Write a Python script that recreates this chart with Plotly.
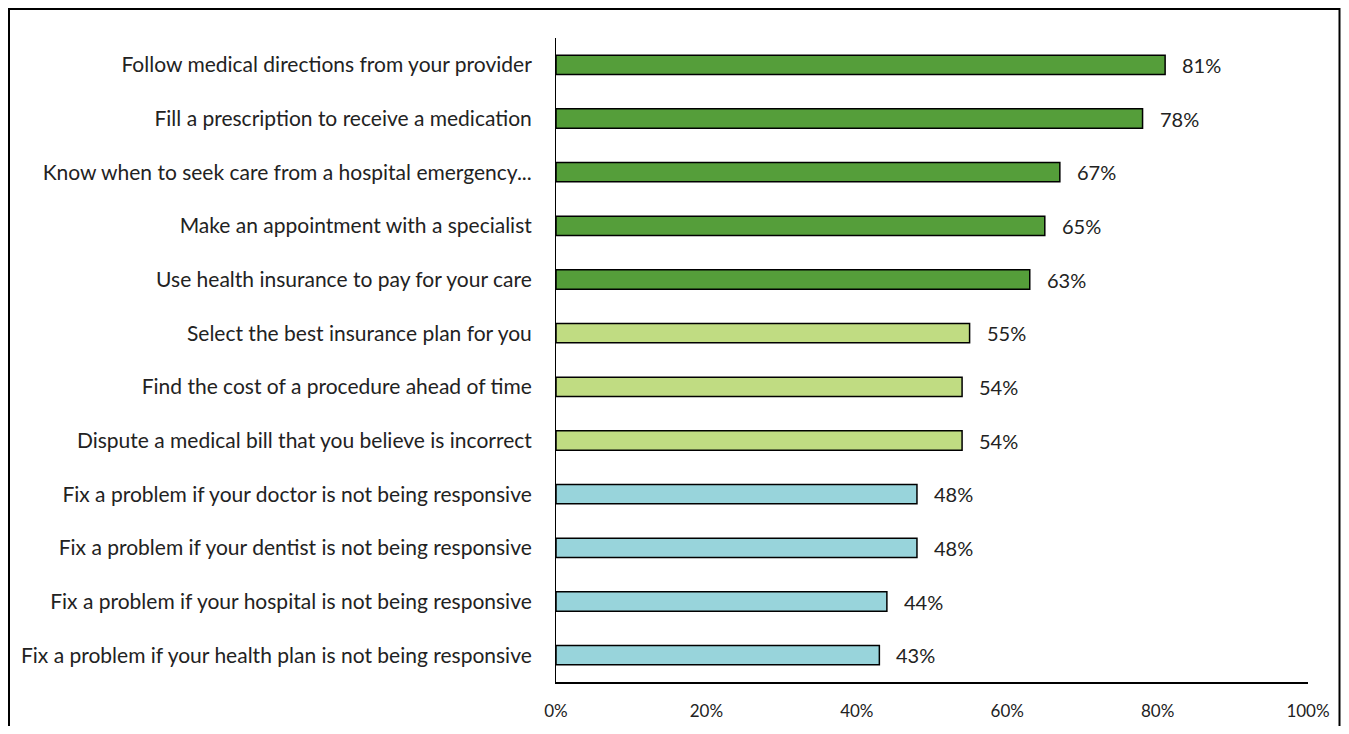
import plotly.graph_objects as go

categories = [
    "Follow medical directions from your provider",
    "Fill a prescription to receive a medication",
    "Know when to seek care from a hospital emergency...",
    "Make an appointment with a specialist",
    "Use health insurance to pay for your care",
    "Select the best insurance plan for you",
    "Find the cost of a procedure ahead of time",
    "Dispute a medical bill that you believe is incorrect",
    "Fix a problem if your doctor is not being responsive",
    "Fix a problem if your dentist is not being responsive",
    "Fix a problem if your hospital is not being responsive",
    "Fix a problem if your health plan is not being responsive",
]
values = [81, 78, 67, 65, 63, 55, 54, 54, 48, 48, 44, 43]
groups = ["dark"] * 5 + ["light"] * 3 + ["blue"] * 4
group_colors = {"dark": "#559E3A", "light": "#C0DC82", "blue": "#98D4DB"}
tick_vals = [0, 20, 40, 60, 80, 100]
tick_text = ["0%", "20%", "40%", "60%", "80%", "100%"]

FONT = "Lato, 'Noto Sans', sans-serif"

# page body has an 8px margin; figure sits at (8, 8); keep it inside the viewport
W, H = 1333, 718
L, R, T, B = 548, 33, 30, 44
PW, PH = W - L - R, H - T - B

fig = go.Figure()
fig.add_trace(go.Bar(
    x=values,
    y=categories,
    orientation="h",
    width=0.36,
    marker=dict(color=[group_colors[g] for g in groups],
                line=dict(color="#000000", width=1.5)),
    hoverinfo="x+y",
))

for c, v in zip(categories, values):
    fig.add_annotation(x=v, y=c, text=f"{v}%", showarrow=False,
                       xanchor="left", xshift=15,
                       font=dict(family=FONT, size=20, color="#222222"))

fig.update_layout(
    width=W, height=H,
    margin=dict(l=L, r=R, t=T, b=B, autoexpand=False),
    paper_bgcolor="white", plot_bgcolor="white",
    showlegend=False,
    font=dict(family=FONT, size=17, color="#222222"),
    xaxis=dict(range=[0, 100], tickvals=tick_vals, ticktext=tick_text,
               showgrid=False, zeroline=False, showline=True,
               linecolor="#000000", linewidth=2, ticks="outside", ticklen=0,
               ticklabelstandoff=13, tickfont=dict(size=17), automargin=False),
    yaxis=dict(categoryorder="array", categoryarray=categories[::-1],
               showgrid=False, zeroline=False, showline=True,
               linecolor="#000000", linewidth=1, ticks="outside", ticklen=0,
               ticklabelstandoff=19, tickfont=dict(size=21), automargin=False),
    shapes=[dict(type="rect", xref="paper", yref="paper",
                 x0=(1 - L) / PW, x1=(W - 1.5 - L) / PW,
                 y0=-0.2, y1=1 + (T - 1) / PH,
                 line=dict(color="#000000", width=2), layer="below")],
)

fig.write_html("out.html")
